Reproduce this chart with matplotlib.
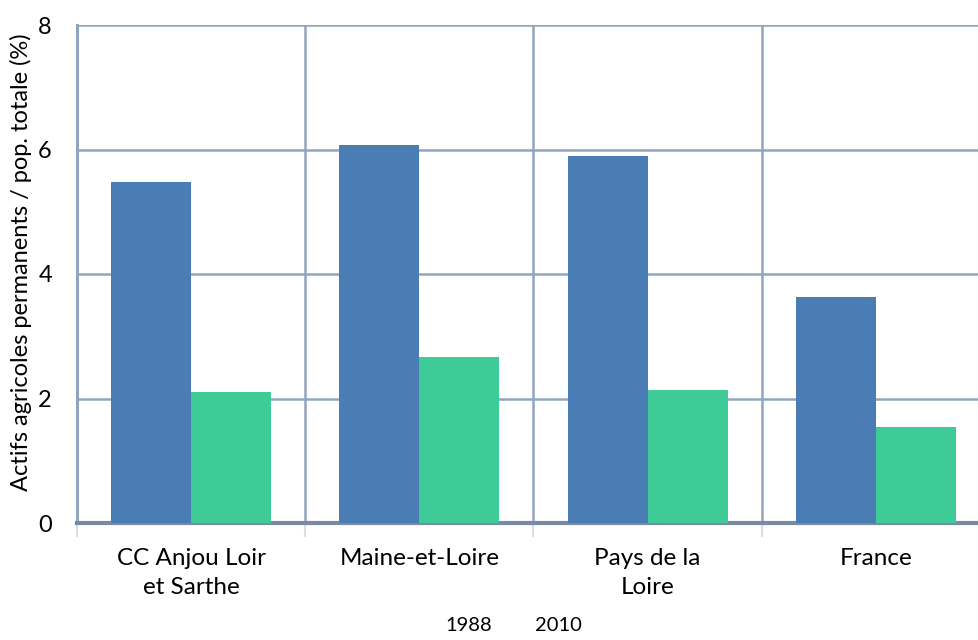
import matplotlib.pyplot as plt
import numpy as np

plt.rcParams['font.family'] = ['Lato', 'DejaVu Sans']

regions = ['CC Anjou Loir\net Sarthe', 'Maine-et-Loire', 'Pays de la\nLoire', 'France']
years = ['1988', '2010']
vals_1988 = [5.48, 6.08, 5.9, 3.63]
vals_2010 = [2.11, 2.67, 2.14, 1.55]
colors = ['#497db4', '#3fcb98']
grid_col = '#91a5bf'

fig = plt.figure(figsize=(9.79, 6.40), dpi=100)
ax = fig.add_axes([77 / 979, 117 / 640, 913 / 979, 498 / 640])

x = np.arange(len(regions))
w = 0.35
ax.bar(x - w / 2, vals_1988, w, color=colors[0], zorder=3)
ax.bar(x + w / 2, vals_2010, w, color=colors[1], zorder=3)

ax.set_xlim(-0.5, len(regions) - 0.5)
ax.set_ylim(0, 8)
ax.set_yticks([0, 2, 4, 6, 8])
ax.set_xticks(x)
ax.set_xticklabels(regions, fontsize=17.5, linespacing=1.5)
ax.set_xticks(np.arange(-0.5, len(regions), 1.0), minor=True)
ax.tick_params(axis='x', which='major', length=0, pad=18)
ax.tick_params(axis='x', which='minor', length=10, color='#dddddd', width=1.5)
ax.tick_params(axis='y', length=0, labelsize=17, pad=18)

ax.grid(axis='y', color=grid_col, linewidth=1.8, zorder=1)
ax.grid(axis='x', which='minor', color=grid_col, linewidth=1.8, zorder=1)
ax.set_axisbelow(True)

for s in ['top', 'right']:
    ax.spines[s].set_visible(False)
ax.spines['left'].set_color(grid_col)
ax.spines['left'].set_linewidth(2.2)
ax.spines['bottom'].set_color('#7a8aa3')
ax.spines['bottom'].set_linewidth(3)

fig.text(21 / 979, 1 - 262 / 640, 'Actifs agricoles permanents / pop. totale (%)',
         rotation=90, ha='center', va='center', fontsize=17)

# series names under the chart
fig.text(469 / 979, 6 / 640, years[0], ha='center', va='bottom', fontsize=14.5)
fig.text(558 / 979, 6 / 640, years[1], ha='center', va='bottom', fontsize=14.5)

fig.savefig('out.png', dpi=100)
